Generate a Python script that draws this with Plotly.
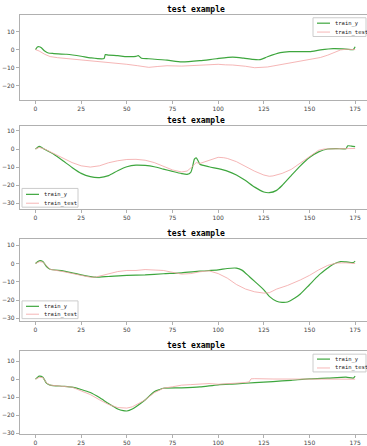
import plotly.graph_objects as go

# ---------------- data ----------------
x_ticks = [0, 25, 50, 75, 100, 125, 150, 175]
title_text = "test example"
series_names = ["train_y", "train_test"]

# subplot 1
p1_y_x = [0, 1, 2, 3, 5, 7, 10, 17, 25, 30, 37.5, 38.2, 40, 45, 50, 55, 56.3, 58, 62, 72, 80, 90, 99, 108, 114, 119, 123, 127, 134, 139, 150, 156, 163, 170, 174, 175]
p1_y_v = [0, 1.5, 1.6, 1.2, -0.8, -1.9, -2.2, -2.6, -3.7, -4.6, -5.0, -2.8, -3.1, -3.4, -3.9, -3.8, -3.4, -4.8, -5.1, -5.9, -6.9, -6.2, -5.1, -4.2, -4.8, -5.5, -5.6, -4.0, -1.7, -1.1, -1.1, -0.2, 0.5, 0.3, 0.0, 1.6]
p1_t_x = [0, 2, 5, 8, 12, 17, 23, 30, 35, 40, 45, 50, 56, 62, 67, 72, 80, 85, 90, 95, 100, 104, 108, 115, 120, 127, 135, 140, 145, 148, 152, 156, 160, 164, 167, 170, 175]
p1_t_v = [0, -0.8, -2.6, -3.9, -4.5, -5.0, -5.4, -5.9, -6.5, -7.1, -7.6, -8.2, -9.0, -9.9, -9.4, -9.0, -9.2, -8.9, -8.8, -8.4, -8.2, -8.5, -8.6, -9.3, -10.1, -9.7, -8.2, -7.3, -6.2, -6.0, -5.3, -4.4, -3.1, -1.6, -0.2, 0.2, 0.0]

# subplot 2
p2_y_x = [0, 2, 4, 10, 15, 20, 25, 30, 35, 40, 45, 50, 55, 60, 65, 70, 75, 80, 83, 85, 86, 87, 88, 89, 90, 95, 100, 105, 110, 115, 120, 125, 128, 132, 135, 140, 145, 150, 155, 160, 165, 170, 171, 173, 175]
p2_y_v = [0, 1.5, 0.4, -2.9, -6.5, -10.2, -13.5, -15.3, -15.8, -14.7, -12.0, -9.8, -8.9, -9.1, -9.8, -11.1, -12.4, -13.6, -14.0, -12.9, -9.8, -5.6, -4.9, -6.5, -8.4, -9.8, -10.9, -12.2, -14.4, -17.5, -21.1, -23.8, -24.2, -22.9, -20.2, -14.7, -9.3, -4.7, -1.6, 0.0, 0.2, 0.2, 1.8, 1.6, 1.3]
p2_t_x = [0, 2, 5, 10, 15, 20, 25, 30, 35, 40, 45, 50, 55, 60, 65, 70, 75, 80, 83, 85, 87, 88, 90, 93, 95, 100, 103, 105, 110, 115, 120, 125, 128, 130, 135, 140, 145, 150, 155, 158, 165, 170, 175]
p2_t_v = [0, 0.9, 0.0, -2.5, -5.0, -7.5, -9.3, -10.0, -9.3, -7.6, -6.5, -5.8, -5.7, -6.2, -7.5, -9.6, -11.6, -12.7, -12.2, -10.5, -8.5, -7.5, -8.0, -7.0, -6.0, -4.6, -4.8, -5.2, -7.0, -9.6, -12.3, -14.4, -15.1, -14.9, -13.5, -11.3, -7.8, -3.8, -0.7, 0.0, 0.2, 0.3, 0.3]

# subplot 3
p3_y_x = [0, 2, 4, 6, 8, 15, 20, 25, 30, 33, 40, 50, 60, 70, 80, 90, 100, 105, 110, 113, 117, 120, 125, 128, 132, 135, 138, 142, 145, 150, 155, 160, 163, 167, 170, 174, 175]
p3_y_v = [0, 1.5, 1.1, -1.6, -3.1, -4.0, -5.1, -6.2, -7.1, -7.5, -7.1, -6.5, -6.2, -5.6, -5.1, -4.2, -3.5, -2.7, -2.5, -3.6, -7.1, -9.8, -14.4, -18.0, -20.7, -21.3, -21.1, -18.9, -16.7, -11.6, -6.5, -2.5, -0.4, 1.1, 0.9, 0.5, 1.3]
p3_t_x = [0, 2, 4, 6, 8, 15, 20, 25, 30, 33, 37, 40, 45, 50, 55, 60, 65, 70, 75, 80, 85, 90, 95, 100, 105, 110, 115, 120, 125, 128, 132, 138, 145, 150, 155, 160, 165, 170, 175]
p3_t_v = [0, 1.0, 0.8, -1.5, -3.2, -4.4, -5.5, -6.5, -7.5, -7.4, -6.5, -5.5, -4.4, -3.8, -3.8, -3.3, -3.6, -3.8, -4.8, -5.8, -5.5, -4.5, -4.0, -5.5, -8.0, -11.5, -14.0, -15.5, -16.2, -16.0, -14.0, -12.0, -9.0, -6.5, -3.5, -1.0, 0.3, 0.4, 0.0]

# subplot 4
p4_y_x = [0, 2, 4, 6, 8, 15, 20, 25, 30, 35, 40, 45, 48, 50, 53, 55, 60, 65, 68, 70, 80, 90, 100, 110, 120, 130, 140, 150, 160, 170, 174, 175]
p4_y_v = [0, 1.7, 1.1, -2.2, -3.3, -3.9, -4.4, -5.7, -7.4, -10.2, -13.5, -16.5, -17.4, -17.6, -16.5, -15.2, -11.5, -6.9, -5.7, -5.0, -4.8, -4.3, -3.1, -2.6, -1.9, -1.3, -0.6, 0.2, 0.6, 1.1, 0.6, 1.7]
p4_t_x = [0, 2, 4, 6, 8, 15, 20, 25, 30, 35, 40, 45, 50, 53, 55, 60, 65, 70, 75, 80, 85, 90, 95, 100, 105, 110, 115, 117, 118, 120, 130, 140, 150, 160, 170, 175]
p4_t_v = [0, 1.0, 0.9, -2.0, -3.3, -3.8, -4.4, -6.5, -8.5, -11.4, -14.0, -15.7, -16.0, -15.3, -14.2, -11.5, -7.5, -5.0, -4.2, -3.3, -3.0, -2.8, -2.4, -2.8, -2.3, -2.2, -1.8, -1.5, 0.2, 0.3, 0.1, 0.1, 0.2, 0.3, 0.1, 0.0]

y_ranges = [[-27.9, 19.4], [-33.3, 12.6], [-31.3, 13.6], [-30.4, 15.5]]

# ---------------- layout geometry (pixels) ----------------
W, H = 367, 446
ax_left, ax_right = 20, 367
tops = [15, 128, 242, 356]
bottoms = [101, 212, 325, 440]
x_range = [-8.5, 181.5]
# legend boxes: (left, top, right, bottom, y of first row, y of second row)
legend_boxes = [
    (313, 18, 366, 37, 23.5, 32.5),
    (22, 191, 78, 210, 197, 206),
    (22, 305, 78, 323, 310.5, 318.5),
    (313, 359, 366, 377, 364, 373),
]

GREEN = "#3ea63e"
PINK = "#f2a3a3"
AXC = "#b0b0b0"
TICKC = "#444444"


def px(xp):
    return xp / W


def py(yp):
    return 1 - yp / H


panels = [
    (p1_y_x, p1_y_v, p1_t_x, p1_t_v),
    (p2_y_x, p2_y_v, p2_t_x, p2_t_v),
    (p3_y_x, p3_y_v, p3_t_x, p3_t_v),
    (p4_y_x, p4_y_v, p4_t_x, p4_t_v),
]

fig = go.Figure()
layout = dict(
    width=W, height=H, margin=dict(l=0, r=0, t=0, b=0),
    paper_bgcolor="white", plot_bgcolor="white",
    showlegend=False, annotations=[], shapes=[],
)

for i, (yx, yv, tx, tv) in enumerate(panels):
    n = i + 1
    xa = "x" if n == 1 else f"x{n}"
    ya = "y" if n == 1 else f"y{n}"
    fig.add_trace(go.Scatter(x=yx, y=yv, mode="lines", name=series_names[0],
                             line=dict(color=GREEN, width=1.2, shape="spline", smoothing=0.6),
                             xaxis=xa, yaxis=ya))
    fig.add_trace(go.Scatter(x=tx, y=tv, mode="lines", name=series_names[1],
                             line=dict(color=PINK, width=0.8),
                             xaxis=xa, yaxis=ya))
    xkey = "xaxis" if n == 1 else f"xaxis{n}"
    ykey = "yaxis" if n == 1 else f"yaxis{n}"
    dom_y = [py(bottoms[i]), py(tops[i])]
    layout[xkey] = dict(domain=[px(ax_left), px(ax_right)], anchor=ya, range=x_range,
                        tickvals=x_ticks, ticks="outside", ticklen=3, tickwidth=0.8,
                        tickcolor=AXC, showline=True, linecolor=AXC, linewidth=1.2,
                        mirror=True, showgrid=False, zeroline=False,
                        tickfont=dict(family="DejaVu Sans", size=6, color=TICKC))
    layout[ykey] = dict(domain=dom_y, anchor=xa, range=y_ranges[i], dtick=10, tick0=0,
                        ticks="outside", ticklen=3, tickwidth=0.8, tickcolor=AXC,
                        showline=True, linecolor=AXC, linewidth=1.2, mirror=False,
                        showgrid=False, zeroline=False,
                        tickfont=dict(family="DejaVu Sans", size=6, color=TICKC))
    # title
    layout["annotations"].append(dict(
        text="<b>" + title_text + "</b>", xref="paper", yref="paper",
        x=px((ax_left + 371) / 2), y=py(tops[i] - 5.5),
        xanchor="center", yanchor="middle", showarrow=False,
        font=dict(family="DejaVu Sans Mono", size=8, color="black")))
    # legend (drawn as a small box like the reference)
    l, t, r, b, r1, r2 = legend_boxes[i]
    layout["shapes"].append(dict(type="rect", xref="paper", yref="paper",
                                 x0=px(l), x1=px(r), y0=py(b), y1=py(t),
                                 line=dict(color="#cccccc", width=1), fillcolor="white",
                                 layer="above"))
    for rowy, col, wdt, name in ((r1, GREEN, 1.2, series_names[0]), (r2, PINK, 0.8, series_names[1])):
        layout["shapes"].append(dict(type="line", xref="paper", yref="paper",
                                     x0=px(l + 4), x1=px(l + 17), y0=py(rowy), y1=py(rowy),
                                     line=dict(color=col, width=wdt), layer="above"))
        layout["annotations"].append(dict(
            text=name, xref="paper", yref="paper", x=px(l + 20), y=py(rowy),
            xanchor="left", yanchor="middle", showarrow=False,
            font=dict(family="DejaVu Sans Mono", size=5.5, color="#222222")))

fig.update_layout(**layout)
fig.write_html("out.html", config={"displayModeBar": False})

# remove the browser's default page margin so the figure sits at (0, 0)
with open("out.html", "r", encoding="utf-8") as f:
    html = f.read()
html = html.replace("<head>", "<head><style>html,body{margin:0;padding:0;overflow:hidden}</style>", 1)
with open("out.html", "w", encoding="utf-8") as f:
    f.write(html)
